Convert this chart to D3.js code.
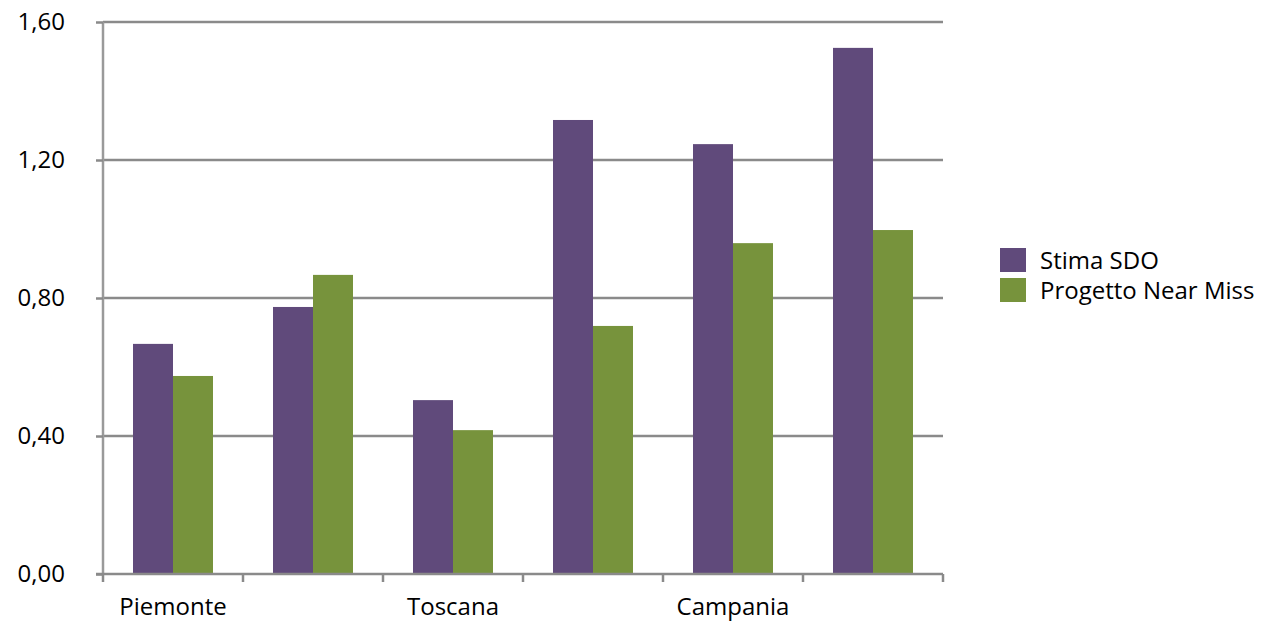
<!DOCTYPE html>
<html>
<head>
<meta charset="utf-8">
<script src="https://cdn.jsdelivr.net/npm/d3@7"></script>
<style>
  body { margin: 0; background: #fff; }
  text { font-family: "Open Sans", "Noto Sans", sans-serif; fill: #000; }
</style>
</head>
<body>
<div id="chart"></div>
<script>
var categories = ["Piemonte", "", "Toscana", "", "Campania", ""];
var seriesNames = ["Stima SDO", "Progetto Near Miss"];
var stimaSDO = [0.667, 0.774, 0.504, 1.316, 1.246, 1.525];
var nearMiss = [0.574, 0.867, 0.417, 0.719, 0.959, 0.997];
var yTicks = [0, 0.4, 0.8, 1.2, 1.6];
var colors = ["#604a7b", "#77933c"];

var W = 1266, H = 623;
var margin = {top: 22, right: 323, bottom: 49, left: 103};
var width = W - margin.left - margin.right;
var height = H - margin.top - margin.bottom;

var svg = d3.select("#chart").append("svg")
    .attr("width", W)
    .attr("height", H)
    .append("g")
    .attr("transform", "translate(" + margin.left + "," + margin.top + ")");

var x = d3.scaleBand().domain(d3.range(categories.length)).range([0, width]).paddingInner(0).paddingOuter(0);
var y = d3.scaleLinear().domain([0, 1.6]).range([height, 0]);
var barW = x.bandwidth() * 40 / 140;

// gridlines
svg.append("g").selectAll("line")
    .data(yTicks.slice(1))
    .enter().append("line")
    .attr("x1", 0).attr("x2", width)
    .attr("y1", d => y(d)).attr("y2", d => y(d))
    .attr("stroke", "#8a8a8a").attr("stroke-width", 2.5);

var data = categories.map((c, i) => ({i: i, vals: [stimaSDO[i], nearMiss[i]]}));

var groups = svg.selectAll(".grp").data(data).enter().append("g")
    .attr("transform", d => "translate(" + (x(d.i) + x.bandwidth() / 2 - barW) + ",0)");

groups.selectAll("rect")
    .data(d => d.vals)
    .enter().append("rect")
    .attr("x", (d, j) => j * barW)
    .attr("y", d => y(d))
    .attr("width", barW)
    .attr("height", d => height - y(d))
    .attr("fill", (d, j) => colors[j]);

// y axis
var yAxis = svg.append("g")
    .call(d3.axisLeft(y).tickValues(yTicks).tickSize(7).tickPadding(31)
        .tickFormat(d => d3.format(".2f")(d).replace(".", ",")));
yAxis.select(".domain").attr("stroke", "#9a9a9a").attr("stroke-width", 2.5)
    .attr("d", "M0," + height + "V0");
yAxis.selectAll(".tick line").attr("stroke", "#8a8a8a").attr("stroke-width", 2.5);
yAxis.selectAll(".tick text").style("font-size", "24px").style("font-family", "'Open Sans', sans-serif").attr("fill", "#000");

// x axis
var xAxis = svg.append("g").attr("transform", "translate(0," + height + ")")
    .call(d3.axisBottom(x).tickSize(0).tickPadding(24).tickFormat(i => categories[i]));
xAxis.select(".domain").attr("stroke", "#8a8a8a").attr("stroke-width", 2.5)
    .attr("d", "M-7,0H" + width);
xAxis.selectAll(".tick text").style("font-size", "24px").style("font-family", "'Open Sans', sans-serif").attr("fill", "#000");

svg.append("g").selectAll("line")
    .data(d3.range(categories.length + 1))
    .enter().append("line")
    .attr("x1", d => d * x.step()).attr("x2", d => d * x.step())
    .attr("y1", height).attr("y2", height + 8)
    .attr("stroke", "#8a8a8a").attr("stroke-width", 2.5);

// legend
var legend = d3.select("svg").append("g").attr("transform", "translate(1000,248)");
seriesNames.forEach(function(name, i) {
    var g = legend.append("g").attr("transform", "translate(0," + (i * 30) + ")");
    g.append("rect").attr("width", 26).attr("height", 24).attr("fill", colors[i]);
    g.append("text").attr("x", 40).attr("y", 21).style("font-size", "24px").text(name);
});
</script>
</body>
</html>
